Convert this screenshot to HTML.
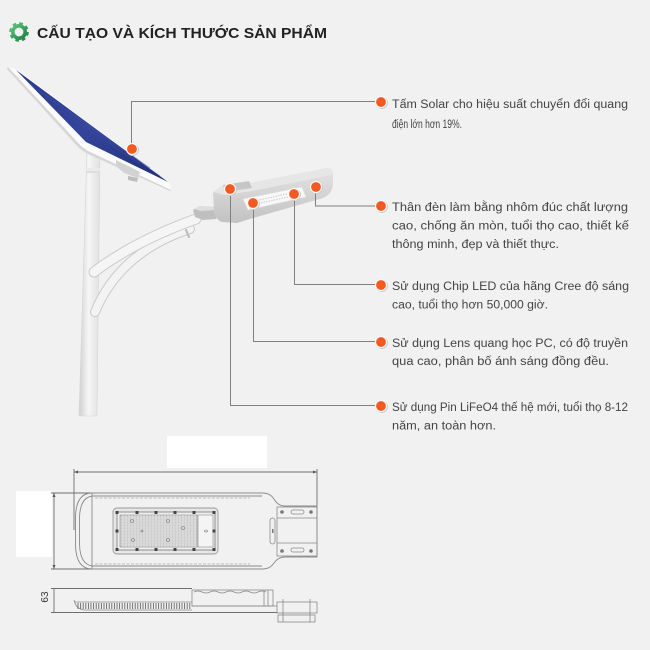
<!DOCTYPE html>
<html><head><meta charset="utf-8"><style>
html,body{margin:0;padding:0;background:#f1f1f1;}
svg{display:block;}
.t{font-family:"Liberation Sans","DejaVu Sans",sans-serif;font-size:11.5px;fill:#444;}
</style></head><body>
<svg width="650" height="650" viewBox="0 0 650 650" xmlns="http://www.w3.org/2000/svg">
<defs>
<linearGradient id="gg" x1="0" y1="0" x2="1" y2="1"><stop offset="0" stop-color="#5cc27a"/><stop offset="1" stop-color="#1d8444"/></linearGradient>
<linearGradient id="pole" x1="0" y1="0" x2="1" y2="0"><stop offset="0" stop-color="#cfcfcf"/><stop offset="0.45" stop-color="#f6f6f6"/><stop offset="1" stop-color="#e0e0e0"/></linearGradient>
<linearGradient id="body" x1="0" y1="0" x2="0" y2="1"><stop offset="0" stop-color="#e4e4e4"/><stop offset="1" stop-color="#c2c2c2"/></linearGradient>
<linearGradient id="blue" x1="0" y1="0" x2="1" y2="1"><stop offset="0" stop-color="#2a3a8a"/><stop offset="0.5" stop-color="#34459a"/><stop offset="1" stop-color="#1f2d78"/></linearGradient>
<g id="dot"><circle cx="0.8" cy="0.8" r="6.2" fill="#cfcfcf"/><circle r="6" fill="#fafafa"/><circle r="4.9" fill="#f15a22"/></g>
</defs>
<rect width="650" height="650" fill="#f1f1f1"/>

<!-- Title -->
<circle cx="19" cy="32" r="8.6" fill="none" stroke="url(#gg)" stroke-width="2.4" stroke-dasharray="3.6 3.15"/>
<circle cx="19" cy="32" r="6.2" fill="none" stroke="url(#gg)" stroke-width="3.6"/>
<text x="37" y="38" font-family="Liberation Sans, DejaVu Sans, sans-serif" font-weight="bold" font-size="15" fill="#222" textLength="290" lengthAdjust="spacingAndGlyphs">CẤU TẠO VÀ KÍCH THƯỚC SẢN PHẨM</text>

<!-- Pole -->
<polygon points="87,150 100,150 97,416 79,416" fill="url(#pole)" stroke="#d6d6d6" stroke-width="0.6"/>
<rect x="85.5" y="168" width="15" height="5" fill="#ebebeb"/>
<line x1="86" y1="172" x2="100" y2="172" stroke="#cccccc" stroke-width="0.8"/>

<!-- Arms -->
<path d="M95 312 Q120 252 190 229" fill="none" stroke="#cacaca" stroke-width="10" stroke-linecap="round"/>
<path d="M95 312 Q120 252 190 229" fill="none" stroke="#f3f3f3" stroke-width="8" stroke-linecap="round"/>
<path d="M94 272 Q135 241 196 219" fill="none" stroke="#cacaca" stroke-width="11" stroke-linecap="round"/>
<path d="M94 272 Q135 241 196 219" fill="none" stroke="#f5f5f5" stroke-width="9" stroke-linecap="round"/>
<path d="M186 230 L189 237" stroke="#bdbdbd" stroke-width="2.2" stroke-linecap="round"/>

<!-- Solar panel -->
<polygon points="8,67 18,70 170,183 171,190 88,151 81,146" fill="#fbfbfb"/>
<polygon points="8,67 81,146 88,151 171,190 170,191 86,153 79,148 7,69" fill="#d6d6d6"/>
<polygon points="16,70 168,182 86,142" fill="url(#blue)"/>
<path d="M30 84 L150 168 M45 96 L160 176 M60 110 L140 164" stroke="#3d50a8" stroke-width="0.8" opacity="0.5"/>
<polygon points="116,160 126,165 140,172 138,178 124,173 116,166" fill="#d2d2d2"/>
<polygon points="128,176 138,178 137,182 128,180" fill="#bdbdbd"/>

<!-- Lamp head -->
<polygon points="193,210 200,206 214,207 218,212 216,219 203,220 195,217" fill="#bfbfbf"/>
<polygon points="194,209 200,206 213,207 216,210 201,211" fill="#dedede"/>
<path d="M213 192 L223 185 L250 183 L327 168 Q332 168 333 173 L333 185 Q332 194 323 198 L253 218 L237 223 L222 222 Q215 219 214 212 Z" fill="url(#body)"/>
<path d="M213 192 L223 185 L250 183 L327 168 Q332 168 333 173 L331 175 L252 191 L225 195 Z" fill="#e6e6e6"/>
<polygon points="223,185 249,181 252,188 225,192" fill="#c6c6c6"/>
<polygon points="243,199 302,187 306,197 248,210" fill="#f8f8f8" stroke="#dedede" stroke-width="0.6"/>
<path d="M250 202 L300 191 M251 205 L302 194" stroke="#cfcfcf" stroke-width="1.2" stroke-dasharray="1.4 1.2"/>

<!-- Connectors -->
<g fill="none" stroke="#808080" stroke-width="1">
<polyline points="131.5,149 131.5,101.5 376,101.5"/>
<polyline points="315.5,188 315.5,206 376,206"/>
<polyline points="294.5,194 294.5,284.5 376,284.5"/>
<polyline points="253.5,203 253.5,341.5 376,341.5"/>
<polyline points="230.5,190 230.5,405.5 376,405.5"/>
</g>
<use href="#dot" x="132" y="149"/>
<use href="#dot" x="230" y="189"/>
<use href="#dot" x="253" y="203"/>
<use href="#dot" x="294" y="194"/>
<use href="#dot" x="316" y="187"/>
<use href="#dot" x="381" y="102"/>
<use href="#dot" x="381" y="206"/>
<use href="#dot" x="381" y="285"/>
<use href="#dot" x="381" y="342"/>
<use href="#dot" x="381" y="406"/>

<!-- Texts -->
<text class="t" x="392" y="108" textLength="236" lengthAdjust="spacingAndGlyphs">Tấm Solar cho hiệu suất chuyển đổi quang</text>
<text class="t" x="392" y="128" textLength="70" lengthAdjust="spacingAndGlyphs">điện lớn hơn 19%.</text>

<text class="t" x="392" y="211" textLength="236" lengthAdjust="spacingAndGlyphs">Thân đèn làm bằng nhôm đúc chất lượng</text>
<text class="t" x="392" y="229.5" textLength="237" lengthAdjust="spacingAndGlyphs">cao, chống ăn mòn, tuổi thọ cao, thiết kế</text>
<text class="t" x="392" y="248" textLength="167" lengthAdjust="spacingAndGlyphs">thông minh, đẹp và thiết thực.</text>

<text class="t" x="392" y="290" textLength="237" lengthAdjust="spacingAndGlyphs">Sử dụng Chip LED của hãng Cree độ sáng</text>
<text class="t" x="392" y="308.5" textLength="156" lengthAdjust="spacingAndGlyphs">cao, tuổi thọ hơn 50,000 giờ.</text>

<text class="t" x="392" y="347" textLength="236" lengthAdjust="spacingAndGlyphs">Sử dụng Lens quang học PC, có độ truyền</text>
<text class="t" x="392" y="365" textLength="217" lengthAdjust="spacingAndGlyphs">qua cao, phân bố ánh sáng đồng đều.</text>

<text class="t" x="392" y="411" textLength="236" lengthAdjust="spacingAndGlyphs">Sử dụng Pin LiFeO4 thế hệ mới, tuổi thọ  8-12</text>
<text class="t" x="392" y="429.5" textLength="104" lengthAdjust="spacingAndGlyphs">năm, an toàn hơn.</text>

<!-- Technical drawing: top view -->
<rect x="167" y="436" width="100" height="32" fill="#fff"/>
<rect x="16" y="491" width="36" height="66" fill="#fff"/>
<g fill="none" stroke="#6e6e6e" stroke-width="0.9">
<line x1="74" y1="472" x2="317" y2="472"/>
<line x1="74" y1="469" x2="74" y2="530"/>
<line x1="317" y1="469" x2="317" y2="507"/>
<line x1="54" y1="493" x2="54" y2="569"/>
<line x1="51" y1="493" x2="92" y2="493"/>
<line x1="51" y1="569" x2="92" y2="569"/>
<line x1="51" y1="588.5" x2="192" y2="588.5"/>
<line x1="54" y1="588" x2="54" y2="612"/>
<line x1="51" y1="612.5" x2="277" y2="612.5"/>
</g>
<g fill="#555">
<polygon points="74,472 78,470.5 78,473.5"/>
<polygon points="317,472 313,470.5 313,473.5"/>
<polygon points="54,493 52.5,497 55.5,497"/>
<polygon points="54,569 52.5,565 55.5,565"/>
</g>
<g fill="none" stroke="#8a8a8a" stroke-width="0.9">
<path d="M92 493 L263 493 Q270 493 274 499 Q278 506 285 506 L317 506 L317 557 L285 557 Q278 557 274 563 Q270 569 263 569 L92 569 Q76 569 75.5 545 L75.5 517 Q76 493 92 493 Z"/>
<path d="M93 496 Q80 497 79.5 518 L79.5 544 Q80 565 93 566"/>
<line x1="92" y1="493" x2="92" y2="569"/>
<line x1="92" y1="496" x2="262" y2="496"/>
<line x1="92" y1="566" x2="262" y2="566"/>
</g>
<g fill="none" stroke="#a8a8a8" stroke-width="0.8" stroke-dasharray="3 1.5">
<line x1="95" y1="498" x2="250" y2="498"/>
<line x1="95" y1="564" x2="250" y2="564"/>
</g>
<!-- LED module -->
<rect x="113" y="508" width="105" height="46" rx="4" fill="#e6e6e6" stroke="#9a9a9a" stroke-width="0.9"/>
<rect x="117" y="512" width="98" height="38" fill="#efefef" stroke="#777" stroke-width="0.8"/>
<rect x="120" y="515" width="77" height="32" fill="#c9c9c9" stroke="#888" stroke-width="0.6"/>
<g stroke="#e8e8e8" stroke-width="1">
<path d="M123 515 V547 M126 515 V547 M129 515 V547 M132 515 V547 M135 515 V547 M138 515 V547 M141 515 V547 M144 515 V547 M147 515 V547 M150 515 V547 M153 515 V547 M156 515 V547 M159 515 V547 M162 515 V547 M165 515 V547 M168 515 V547 M171 515 V547 M174 515 V547 M177 515 V547 M180 515 V547 M183 515 V547 M186 515 V547 M189 515 V547 M192 515 V547 M195 515 V547"/>
</g>
<g stroke="#dadada" stroke-width="0.8">
<path d="M120 518 H197 M120 521 H197 M120 524 H197 M120 527 H197 M120 530 H197 M120 533 H197 M120 536 H197 M120 539 H197 M120 542 H197 M120 545 H197"/>
</g>
<rect x="198" y="515" width="15" height="32" fill="#f4f4f4" stroke="#888" stroke-width="0.6"/>
<ellipse cx="206" cy="531" rx="1.5" ry="1" fill="none" stroke="#777" stroke-width="0.6"/>
<g fill="#444">
<rect x="115.5" y="511" width="3" height="3"/><rect x="135.5" y="511" width="3" height="3"/><rect x="154.5" y="511" width="3" height="3"/><rect x="173.5" y="511" width="3" height="3"/><rect x="192.5" y="511" width="3" height="3"/><rect x="212.5" y="511" width="3" height="3"/>
<rect x="115.5" y="548" width="3" height="3"/><rect x="135.5" y="548" width="3" height="3"/><rect x="154.5" y="548" width="3" height="3"/><rect x="173.5" y="548" width="3" height="3"/><rect x="192.5" y="548" width="3" height="3"/><rect x="212.5" y="548" width="3" height="3"/>
<rect x="115.5" y="529.5" width="3" height="3"/><rect x="212.5" y="529.5" width="3" height="3"/>
</g>
<g fill="none" stroke="#777" stroke-width="0.6">
<circle cx="132" cy="521" r="1.5"/><circle cx="168" cy="521" r="1.5"/><circle cx="133" cy="540" r="1.5"/><circle cx="168" cy="540" r="1.5"/><circle cx="183" cy="528" r="1.5"/><circle cx="142" cy="531" r="1"/>
</g>
<!-- Bracket top view -->
<g fill="none" stroke="#8a8a8a" stroke-width="0.8">
<rect x="277" y="507" width="40" height="49"/>
<line x1="277" y1="518" x2="317" y2="518"/>
<line x1="277" y1="543" x2="317" y2="543"/>
<rect x="291" y="510" width="13" height="4" rx="2"/>
<rect x="291" y="548" width="13" height="4" rx="2"/>
<rect x="270" y="518" width="5" height="26" rx="2.5"/>
</g>
<g fill="#777"><circle cx="282" cy="512" r="1.8"/><circle cx="311" cy="512" r="1.8"/><circle cx="282" cy="551" r="1.8"/><circle cx="311" cy="551" r="1.8"/><rect x="272" y="529" width="1.5" height="4"/></g>

<!-- Side view -->
<g fill="none" stroke="#8a8a8a" stroke-width="0.8">
<line x1="75" y1="602" x2="192" y2="602"/>
<path d="M74 600 Q76 609 84 610 L192 610"/>
<rect x="192" y="590" width="81" height="16"/>
<path d="M194 592 q4 -2 8 0 t8 0 t8 0 t8 0 t8 0 t8 0 t8 0 t8 0 t8 0"/>
<line x1="264" y1="590" x2="264" y2="606"/>
<line x1="268" y1="590" x2="268" y2="606"/>
<line x1="192" y1="606" x2="277" y2="606"/>
<rect x="277" y="602" width="40" height="11"/>
<rect x="278" y="615" width="37" height="7"/>
<line x1="283" y1="599" x2="283" y2="622"/>
<line x1="310" y1="599" x2="310" y2="622"/>
</g>
<g stroke="#666" stroke-width="0.9">
<path d="M78 603 V609 M80.6 603 V609 M83.2 603 V609 M85.8 603 V609 M88.4 603 V609 M91 603 V609 M93.6 603 V609 M96.2 603 V609 M98.8 603 V609 M101.4 603 V609 M104 603 V609 M106.6 603 V609 M109.2 603 V609 M111.8 603 V609 M114.4 603 V609 M117 603 V609 M119.6 603 V609 M122.2 603 V609 M124.8 603 V609 M127.4 603 V609 M130 603 V609 M132.6 603 V609 M135.2 603 V609 M137.8 603 V609 M140.4 603 V609 M143 603 V609 M145.6 603 V609 M148.2 603 V609 M150.8 603 V609 M153.4 603 V609 M156 603 V609 M158.6 603 V609 M161.2 603 V609 M163.8 603 V609 M166.4 603 V609 M169 603 V609 M171.6 603 V609 M174.2 603 V609 M176.8 603 V609 M179.4 603 V609 M182 603 V609 M184.6 603 V609 M187.2 603 V609 M189.8 603 V609"/>
</g>
<text x="48" y="597" transform="rotate(-90 48 597)" text-anchor="middle" font-family="Liberation Sans, sans-serif" font-size="10" fill="#333">63</text>
</svg>
</body></html>
